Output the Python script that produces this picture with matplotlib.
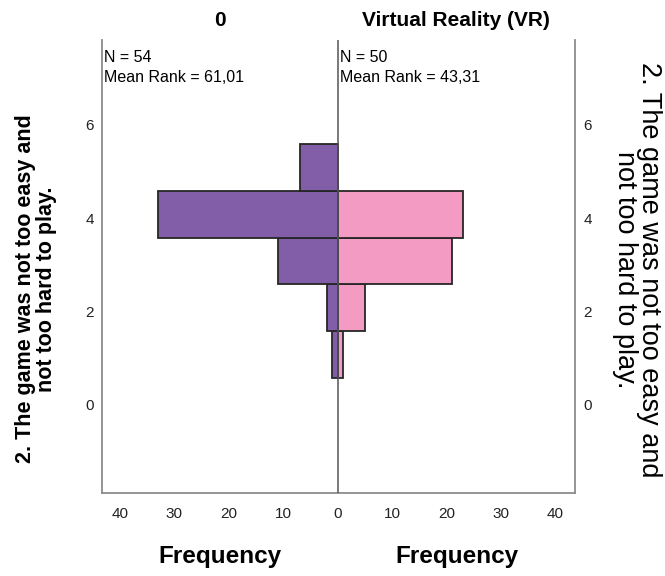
import numpy as np
import matplotlib.pyplot as plt
import matplotlib.transforms as mtransforms
from matplotlib.ticker import FuncFormatter

plt.rcParams['font.family'] = ['Liberation Sans', 'DejaVu Sans']

# rating values (bins) and frequencies per group
values = [1, 2, 3, 4, 5]
freq_0 = [1, 2, 11, 33, 7]
freq_vr = [1, 5, 21, 23, 0]
groups = ["0", "Virtual Reality (VR)"]
n_counts = [54, 50]
mean_ranks = ["61,01", "43,31"]
ylabel = "2. The game was not too easy and\nnot too hard to play."
xticks = [-40, -30, -20, -10, 0, 10, 20, 30, 40]
yticks = [0, 2, 4, 6]

W, H = 665, 576
fig = plt.figure(figsize=(W / 100, H / 100), dpi=100)
ax = fig.add_axes([102 / W, 1 - 493 / H, (575 - 102) / W, (493 - 40) / H])

purple = "#825EA8"
pink = "#F39BC2"
edge = "#262626"

ax.barh(values, -np.array(freq_0), height=1, color=purple,
        edgecolor=edge, linewidth=1.3, zorder=2)
vr = np.array(freq_vr)
mask = vr > 0
ax.barh(np.array(values)[mask], vr[mask], height=1, color=pink,
        edgecolor=edge, linewidth=1.3, zorder=2)
ax.axvline(0, color="#555555", lw=1.1, zorder=3)

ax.set_xlim(-43.3, 43.6)
ax.set_ylim(-1.97, 7.73)
ax.set_xticks(xticks)
ax.xaxis.set_major_formatter(FuncFormatter(lambda v, p: f"{abs(int(v))}"))
ax.set_yticks(yticks)
ax.tick_params(axis='both', length=0, labelsize=11, colors="#222222")
ax.tick_params(axis='y', labelright=True, pad=6)
ax.tick_params(axis='x', pad=10)

# y tick labels sit a little below the bin centres in the original
shift = mtransforms.ScaledTranslation(0, -4 / 100, fig.dpi_scale_trans)
for t in ax.yaxis.get_major_ticks():
    t.label1.set_transform(t.label1.get_transform() + shift)
    t.label2.set_transform(t.label2.get_transform() + shift)

ax.spines['top'].set_visible(False)
for s in ['left', 'right', 'bottom']:
    ax.spines[s].set_color("#8c8c8c")
    ax.spines[s].set_linewidth(1.3)

# group titles
fig.text(220 / W, 1 - 20 / H, groups[0], ha='center', va='center',
         fontsize=15, fontweight='bold')
fig.text(456 / W, 1 - 20 / H, groups[1], ha='center', va='center',
         fontsize=15, fontweight='bold')

# N and mean rank
for x0, n, mr in [(104, n_counts[0], mean_ranks[0]), (340, n_counts[1], mean_ranks[1])]:
    fig.text(x0 / W, 1 - 58 / H, f"N = {n}", ha='left', va='center', fontsize=11.5)
    fig.text(x0 / W, 1 - 77 / H, f"Mean Rank = {mr}", ha='left', va='center', fontsize=11.5)

# axis labels
fig.text(220 / W, 1 - 557 / H, "Frequency", ha='center', va='center',
         fontsize=17.5, fontweight='bold')
fig.text(457 / W, 1 - 557 / H, "Frequency", ha='center', va='center',
         fontsize=17.5, fontweight='bold')
fig.text(36 / W, 1 - 289 / H, ylabel, ha='center', va='center', rotation=90,
         multialignment='center', fontsize=15.5, fontweight='bold', linespacing=0.95)
fig.text(637 / W, 1 - 270 / H, ylabel, ha='center', va='center', rotation=-90,
         multialignment='center', fontsize=19.5, linespacing=0.88)

fig.savefig("out.png", dpi=100)
